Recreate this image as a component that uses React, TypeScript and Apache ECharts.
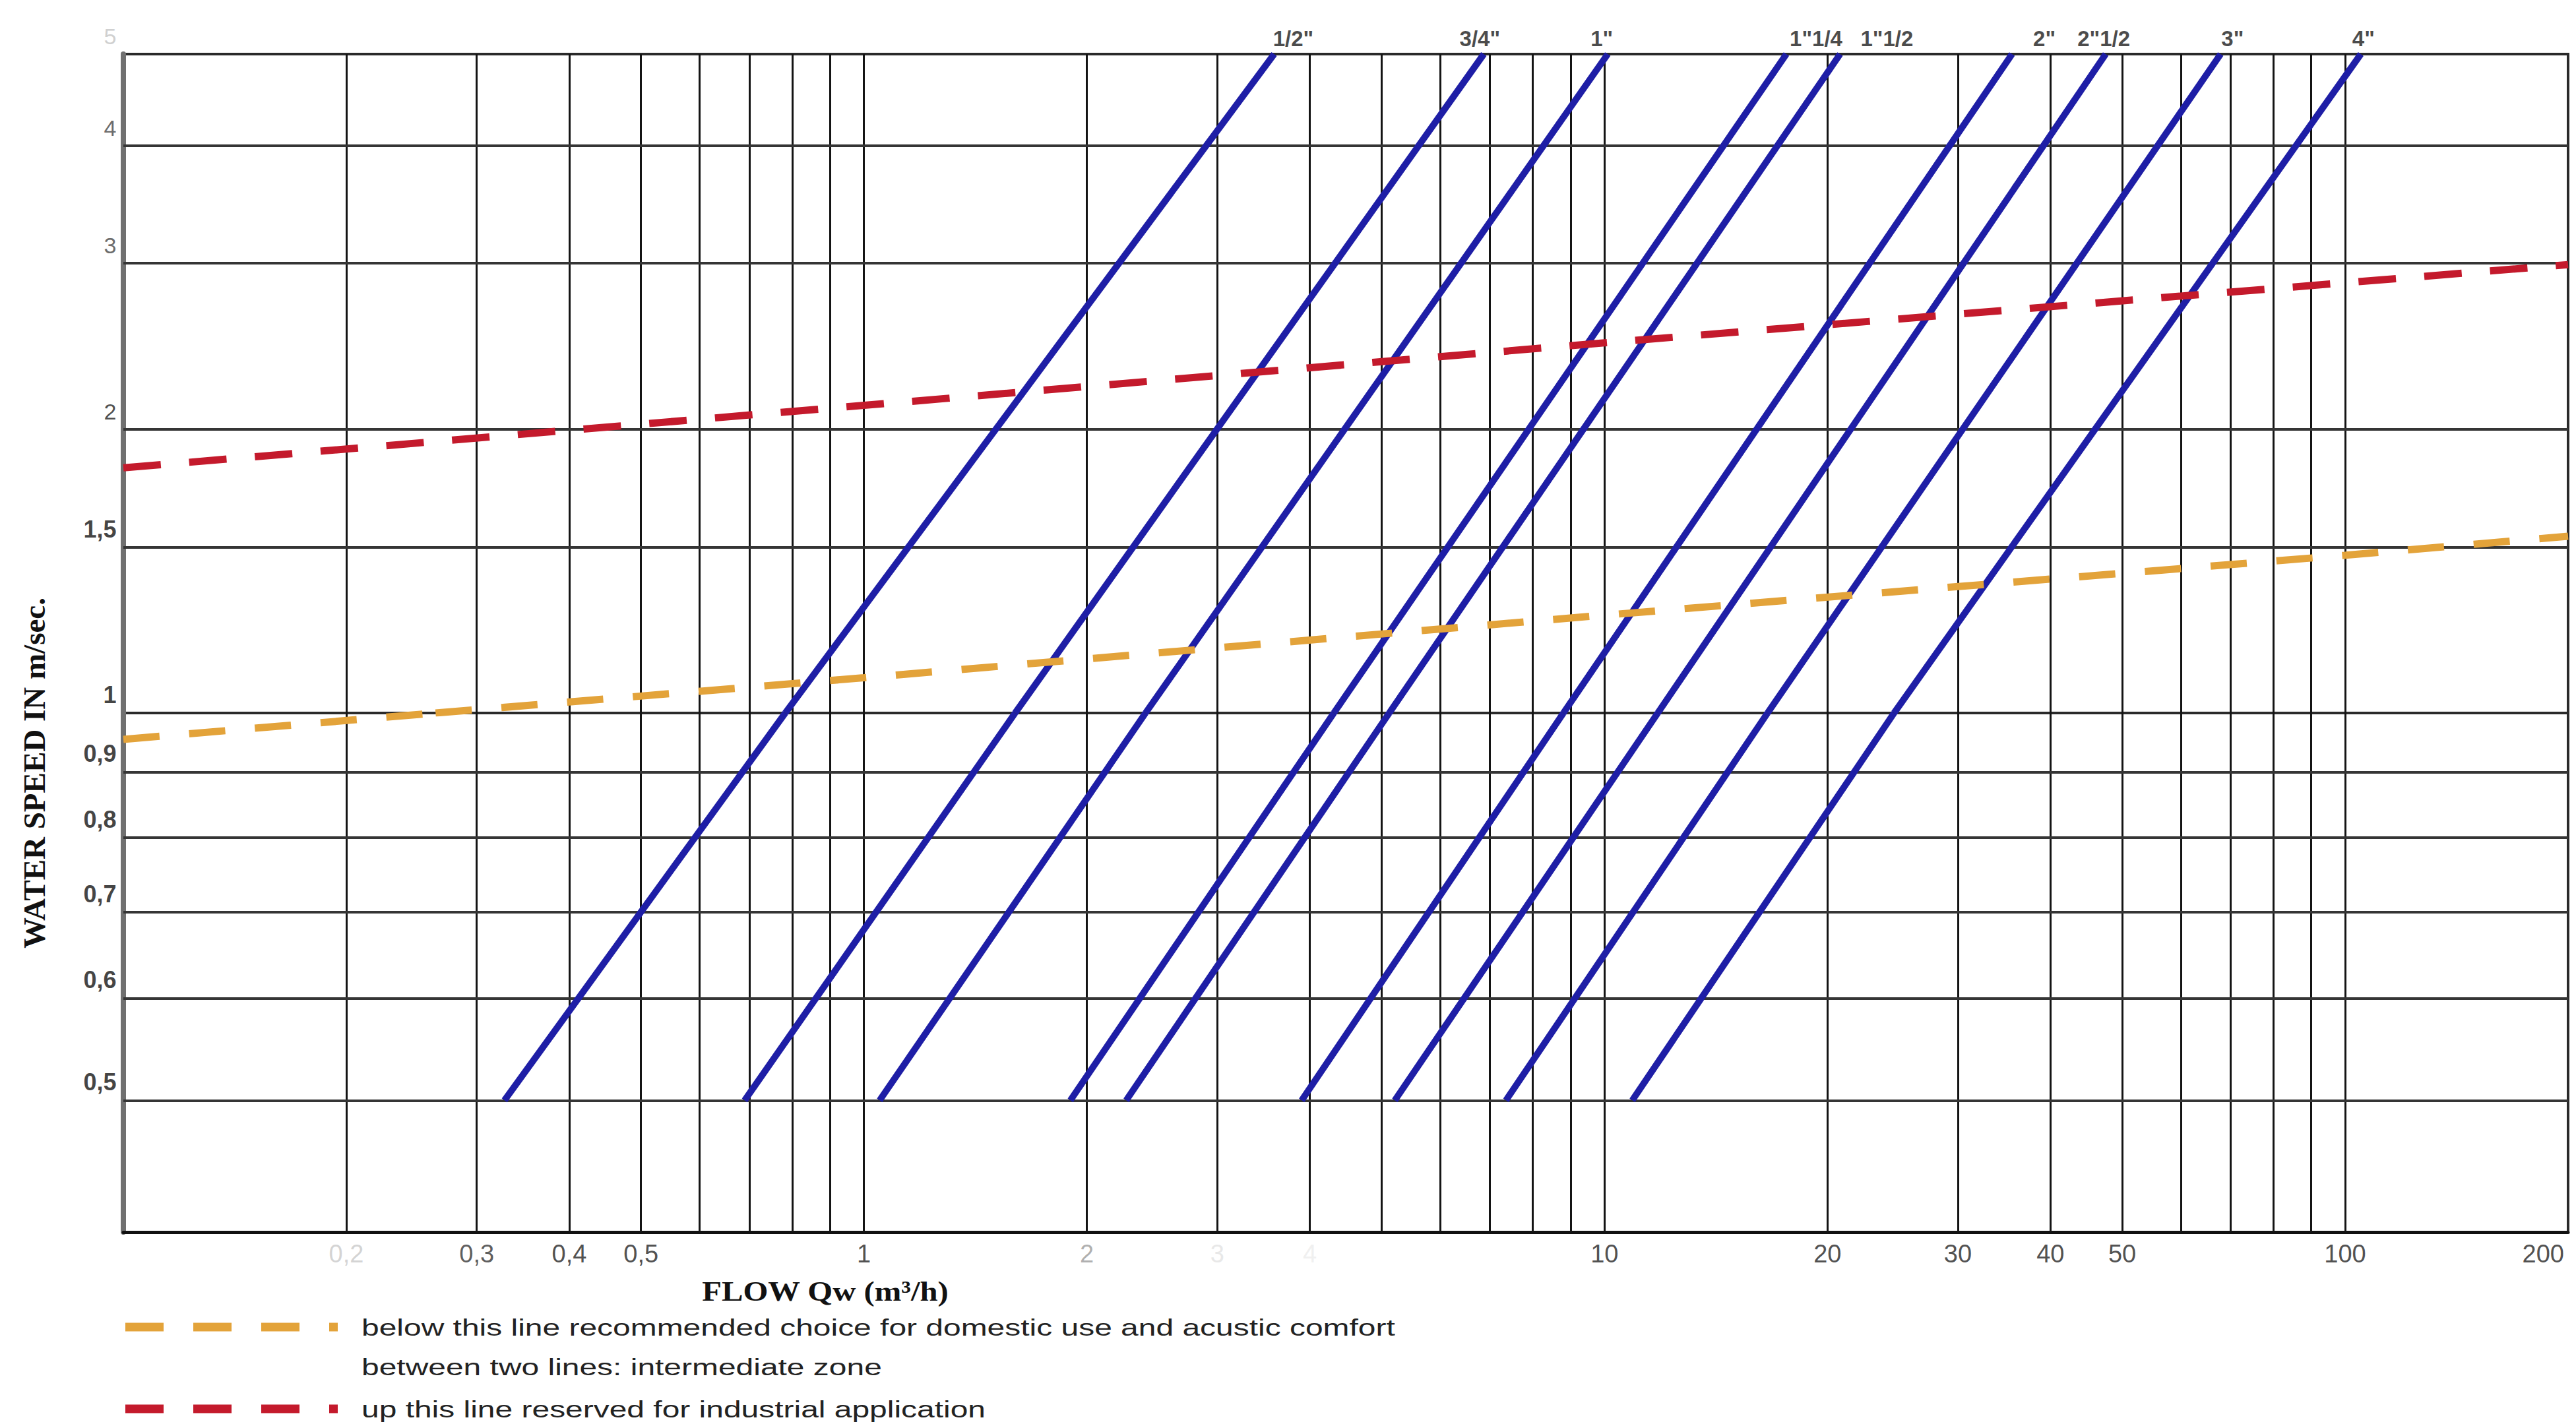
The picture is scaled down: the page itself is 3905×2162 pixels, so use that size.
import React, { useEffect, useRef } from 'react';
import * as echarts from 'echarts';

const W = 3905;
const H = 2162;

const pipeSizes = ['1/2"', '3/4"', '1"', '1"1/4', '1"1/2', '2"', '2"1/2', '3"', '4"'];
// flow (m3/h) where each pipe line reaches a water speed of 0.5, 1 and 5 m/s
const flowAtSpeed05 = [0.327, 0.69, 1.05, 1.9, 2.26, 3.9, 5.21, 7.36, 10.9];
const flowAtSpeed1 = [0.783, 1.6, 2.4, 4.31, 5.12, 8.8, 11.8, 16.6, 24.6];
const flowAtSpeed5 = [3.58, 6.87, 10.1, 17.6, 20.8, 35.5, 47.5, 67.9, 105];

// industrial limit (red dashed)
const industrialFlow = [0.1, 1, 10, 100, 200];
const industrialSpeed = [1.82, 2.12, 2.47, 2.86, 2.99];

// domestic / acoustic comfort limit (yellow dashed)
const domesticFlowLow = [0.1, 0.264];
const domesticSpeedLow = [0.954, 1];
const domesticFlowHigh = [0.264, 1, 10, 100, 200];
const domesticSpeedHigh = [1, 1.09, 1.27, 1.47, 1.54];

// grid lines and tick labels
const flowGridValues = [0.2, 0.3, 0.4, 0.5, 0.6, 0.7, 0.8, 0.9, 1, 2, 3, 4, 5, 6, 7, 8, 9, 10, 20, 30, 40, 50, 60, 70, 80, 90, 100];
const flowLabelValues = [0.2, 0.3, 0.4, 0.5, 1, 2, 3, 4, 10, 20, 30, 40, 50, 100, 200];
const flowLabelTexts = ['0,2', '0,3', '0,4', '0,5', '1', '2', '3', '4', '10', '20', '30', '40', '50', '100', '200'];
const speedGridHigh = [1.5, 2, 3, 4];
const speedGridLow = [0.5, 0.6, 0.7, 0.8, 0.9];
const speedLabelValuesHigh = [5, 4, 3, 2, 1.5];
const speedLabelTextsHigh = ['5', '4', '3', '2', '1,5'];
const speedLabelValuesLow = [1, 0.9, 0.8, 0.7, 0.6, 0.5];
const speedLabelTextsLow = ['1', '0,9', '0,8', '0,7', '0,6', '0,5'];

const FLOW_MIN = 0.1;
const FLOW_MAX = 200;
const SPEED_MIN = 0.395;
const SPEED_SPLIT = 1;
const SPEED_MAX = 5;

// ---------- styles / layout ----------
const BLUE = '#1e1ea6';
const RED = '#c41a2c';
const YELLOW = '#e3a33a';
const SANS = '"Liberation Sans", Arial, sans-serif';
const SERIF = '"Liberation Serif", "Times New Roman", serif';

const flowLabelColors = ['#c9c9c9', '#333', '#222', '#222', '#222', '#9a9a9a', '#e2e2e2', '#ececec', '#222', '#222', '#222', '#222', '#222', '#222', '#222'];
const speedLabelHighStyle = [
  { color: '#c4c4c4', fontWeight: 'normal', fontSize: 34 },
  { color: '#444', fontWeight: 'normal', fontSize: 34 },
  { color: '#444', fontWeight: 'normal', fontSize: 34 },
  { color: '#222', fontWeight: 'normal', fontSize: 34 },
  { color: '#111', fontWeight: 'bold', fontSize: 36 },
];
const pipeLabelDx = [29, -6, -9, 45, 71, 49, -3, 18, 4];

const GRID_LEFT = 187;
const GRID_WIDTH = 3706;
const UPPER_TOP = 82;
const SPLIT_Y = 1081;
const BOTTOM_Y = 1868;

const vLine = { color: '#141414', width: 3, type: 'solid' as const };
const hLine = { color: '#353535', width: 4, type: 'solid' as const };

function gridLineSeries(xIdx: number, speeds: number[]) {
  return {
    type: 'line',
    xAxisIndex: xIdx,
    yAxisIndex: xIdx,
    data: [],
    silent: true,
    z: 1,
    markLine: {
      silent: true,
      z: 1,
      symbol: ['none', 'none'],
      label: { show: false },
      emphasis: { disabled: true },
      animation: false,
      data: [
        ...flowGridValues.map((v) => ({ xAxis: v, lineStyle: vLine })),
        ...speeds.map((v) => ({ yAxis: v, lineStyle: hLine })),
      ],
    },
  };
}

function lineSeries(name: string, idx: number, xs: number[], ys: number[], color: string, width: number, dash: any, z: number) {
  return {
    name,
    type: 'line',
    xAxisIndex: idx,
    yAxisIndex: idx,
    data: xs.map((x, i) => [x, ys[i]]),
    showSymbol: false,
    symbol: 'none',
    silent: true,
    z,
    lineStyle: { color, width, type: dash, cap: 'butt' },
  };
}

function buildOption() {
  const series: any[] = [gridLineSeries(0, speedGridHigh), gridLineSeries(1, speedGridLow)];

  pipeSizes.forEach((p, i) => {
    series.push(lineSeries(p, 1, [flowAtSpeed05[i], flowAtSpeed1[i]], [0.5, 1], BLUE, 10, 'solid', 5));
    series.push(lineSeries(p, 0, [flowAtSpeed1[i], flowAtSpeed5[i]], [1, 5], BLUE, 10, 'solid', 5));
  });

  series.push(lineSeries('industrial', 0, industrialFlow, industrialSpeed, RED, 11, [57, 43], 6));
  series.push(lineSeries('domestic', 1, domesticFlowLow, domesticSpeedLow, YELLOW, 11, [55, 45], 6));
  series.push(lineSeries('domestic', 0, domesticFlowHigh, domesticSpeedHigh, YELLOW, 11, [55, 45], 6));

  const invisible = { color: 'rgba(0,0,0,0)' };

  // pipe size labels at the top end of each line
  series.push({
    type: 'scatter',
    xAxisIndex: 0,
    yAxisIndex: 0,
    symbolSize: 1,
    clip: false,
    silent: true,
    itemStyle: invisible,
    z: 8,
    data: pipeSizes.map((p, i) => ({
      name: p,
      value: [flowAtSpeed5[i], SPEED_MAX],
      label: { offset: [pipeLabelDx[i], 0] },
    })),
    label: {
      show: true,
      position: 'top',
      distance: 7,
      formatter: '{b}',
      fontFamily: SANS,
      fontWeight: 'bold',
      fontSize: 33,
      color: '#1a1a1a',
    },
  });

  // flow tick labels
  series.push({
    type: 'scatter',
    xAxisIndex: 1,
    yAxisIndex: 1,
    symbolSize: 1,
    clip: false,
    silent: true,
    itemStyle: invisible,
    z: 8,
    data: flowLabelValues.map((v, i) => ({
      name: flowLabelTexts[i],
      value: [v, SPEED_MIN],
      label: {
        color: flowLabelColors[i],
        align: v === FLOW_MAX ? 'right' : 'center',
        offset: v === FLOW_MAX ? [-6, 0] : [0, 0],
      },
    })),
    label: {
      show: true,
      position: 'bottom',
      distance: 13,
      formatter: '{b}',
      fontFamily: SANS,
      fontSize: 38,
      color: '#222',
    },
  });

  // speed tick labels (upper and lower part)
  series.push({
    type: 'scatter',
    xAxisIndex: 0,
    yAxisIndex: 0,
    symbolSize: 1,
    clip: false,
    silent: true,
    itemStyle: invisible,
    z: 8,
    data: speedLabelValuesHigh.map((v, i) => ({
      name: speedLabelTextsHigh[i],
      value: [FLOW_MIN, v],
      label: speedLabelHighStyle[i],
    })),
    label: {
      show: true,
      position: 'left',
      distance: 10,
      offset: [0, -27],
      formatter: '{b}',
      fontFamily: SANS,
    },
  });
  series.push({
    type: 'scatter',
    xAxisIndex: 1,
    yAxisIndex: 1,
    symbolSize: 1,
    clip: false,
    silent: true,
    itemStyle: invisible,
    z: 8,
    data: speedLabelValuesLow.map((v, i) => ({ name: speedLabelTextsLow[i], value: [FLOW_MIN, v] })),
    label: {
      show: true,
      position: 'left',
      distance: 10,
      offset: [0, -28],
      formatter: '{b}',
      fontFamily: SANS,
      fontWeight: 'bold',
      fontSize: 36,
      color: '#111',
    },
  });

  const xAxisBase = {
    type: 'log',
    logBase: 10,
    min: FLOW_MIN,
    max: FLOW_MAX,
    axisTick: { show: false },
    axisLabel: { show: false },
    splitLine: { show: false },
    minorSplitLine: { show: false },
  };
  const yAxisBase = {
    type: 'log',
    logBase: 10,
    axisTick: { show: false },
    axisLabel: { show: false },
    splitLine: { show: false },
    axisLine: { show: true, onZero: false, lineStyle: { color: '#707070', width: 8 } },
  };

  return {
    animation: false,
    backgroundColor: '#ffffff',
    grid: [
      { left: GRID_LEFT, top: UPPER_TOP, width: GRID_WIDTH, height: SPLIT_Y - UPPER_TOP, show: true, borderColor: '#2a2a2a', borderWidth: 4, backgroundColor: 'transparent' },
      { left: GRID_LEFT, top: SPLIT_Y, width: GRID_WIDTH, height: BOTTOM_Y - SPLIT_Y, show: true, borderColor: '#2a2a2a', borderWidth: 4, backgroundColor: 'transparent' },
    ],
    xAxis: [
      { ...xAxisBase, gridIndex: 0, axisLine: { show: false } },
      { ...xAxisBase, gridIndex: 1, axisLine: { show: true, onZero: false, lineStyle: { color: '#111', width: 5 } } },
    ],
    yAxis: [
      { ...yAxisBase, gridIndex: 0, min: SPEED_SPLIT, max: SPEED_MAX },
      { ...yAxisBase, gridIndex: 1, min: SPEED_MIN, max: SPEED_SPLIT },
    ],
    series,
    graphic: [
      {
        type: 'text',
        x: 1251,
        y: 1958,
        scaleX: 1.16,
        style: { text: 'FLOW Qw (m³/h)', font: `bold 42px ${SERIF}`, fill: '#111', align: 'center', verticalAlign: 'middle' },
      },
      {
        type: 'text',
        x: 52,
        y: 1172,
        rotation: Math.PI / 2,
        style: { text: 'WATER SPEED IN m/sec.', font: `bold 47px ${SERIF}`, fill: '#111', align: 'center', verticalAlign: 'middle' },
      },
      {
        type: 'line',
        shape: { x1: 190, y1: 2012, x2: 512, y2: 2012 },
        style: { stroke: YELLOW, lineWidth: 13, lineDash: [58, 45] },
      },
      {
        type: 'line',
        shape: { x1: 190, y1: 2136, x2: 512, y2: 2136 },
        style: { stroke: RED, lineWidth: 13, lineDash: [58, 45] },
      },
      {
        type: 'text',
        x: 548,
        y: 2013,
        scaleX: 1.37,
        style: { text: 'below this line recommended choice for domestic use and acustic comfort', font: `35px ${SANS}`, fill: '#222', verticalAlign: 'middle' },
      },
      {
        type: 'text',
        x: 548,
        y: 2073,
        scaleX: 1.37,
        style: { text: 'between two lines: intermediate zone', font: `35px ${SANS}`, fill: '#222', verticalAlign: 'middle' },
      },
      {
        type: 'text',
        x: 548,
        y: 2137,
        scaleX: 1.37,
        style: { text: 'up this line reserved for industrial application', font: `35px ${SANS}`, fill: '#222', verticalAlign: 'middle' },
      },
    ],
  };
}

export default function App() {
  const ref = useRef<HTMLDivElement>(null);
  useEffect(() => {
    if (!ref.current) return;
    const chart = echarts.init(ref.current, null, { renderer: 'svg', width: W, height: H });
    chart.setOption(buildOption() as any);
    return () => chart.dispose();
  }, []);
  return (
    <div
      ref={ref}
      style={{ position: 'fixed', left: 0, top: 0, width: W + 'px', height: H + 'px', background: '#fff' }}
    />
  );
}
